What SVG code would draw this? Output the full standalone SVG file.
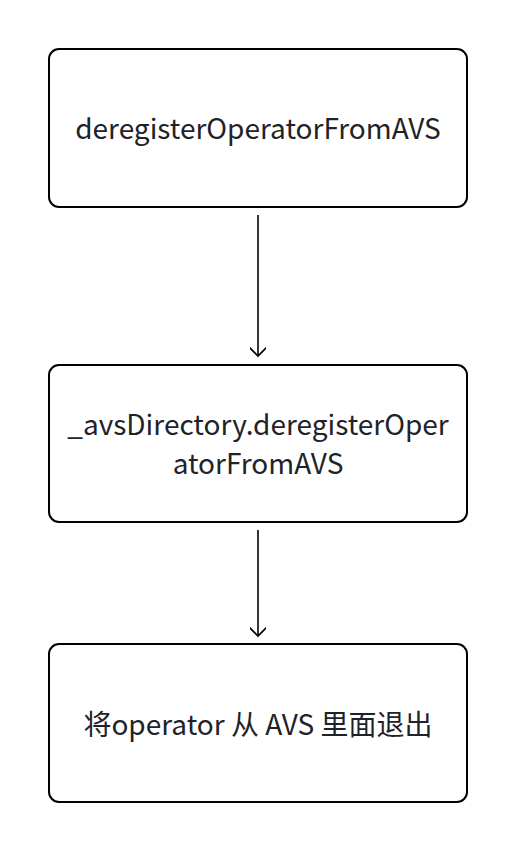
<svg xmlns="http://www.w3.org/2000/svg" width="516" height="852" viewBox="0 0 516 852">
<defs>
<style>
.node rect{fill:#ffffff;stroke:#000000;stroke-width:2}
.node text{font-family:"Noto Sans CJK SC","Noto Sans",sans-serif;font-size:28px;fill:#1f2329;text-anchor:middle}
.edge{stroke:#000000;stroke-width:1.6;fill:none}
</style>
<marker id="arr" markerWidth="16" markerHeight="16" refX="12" refY="8" orient="auto" markerUnits="userSpaceOnUse" viewBox="0 0 16 16">
<path d="M1,-3 L12,8 L1,19" fill="none" stroke="#000" stroke-width="1.6"/>
</marker>
</defs>
<rect width="516" height="852" fill="#ffffff"/>
<g id="connectors">
<path class="edge" d="M258,215 L258,356" marker-end="url(#arr)"/>
<path class="edge" d="M258,530 L258,636" marker-end="url(#arr)"/>
</g>
<g id="node1" class="node">
<rect x="49" y="49" width="418" height="158" rx="10"/>
<text x="258" y="139">deregisterOperatorFromAVS</text>
</g>
<g id="node2" class="node">
<rect x="49" y="365" width="418" height="157" rx="10"/>
<text x="258" y="435">_avsDirectory.deregisterOper</text>
<text x="258" y="474">atorFromAVS</text>
</g>
<g id="node3" class="node">
<rect x="49" y="644" width="418" height="158" rx="10"/>
<text x="258" y="735">将operator 从 AVS 里面退出</text>
</g>
</svg>
